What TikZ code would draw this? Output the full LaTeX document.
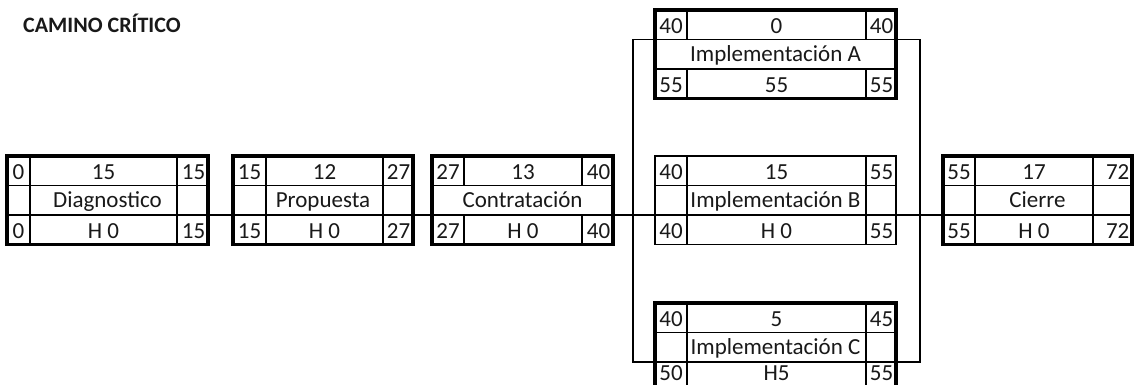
\documentclass[tikz,border=0pt]{standalone}
\usepackage{fontspec}
\setmainfont{Carlito}
\usetikzlibrary{fit}

\tikzset{
  boxframe/.style={draw=black, line width=3.2pt, inner sep=0pt, outer sep=0pt},
  lightframe/.style={draw=black, line width=1.4pt, inner sep=0pt, outer sep=0pt},
  cell/.style={draw=black, line width=1.2pt},
  txt/.style={inner sep=0pt, anchor=base, font=\fontsize{23}{24}\selectfont, text=black!90},
  link/.style={draw=black, line width=2.4pt},
  bus/.style={draw=black, line width=1.2pt},
  title/.style={inner sep=0pt, anchor=base west, font=\fontsize{22}{24}\bfseries\selectfont, text=black!90},
}

% Activity box: name, column edges x0..x3, top y, split middle row (1/0), frame style
\newcommand\actgrid[8]{%
  \pgfmathsetmacro\ya{#6+29.5}\pgfmathsetmacro\yb{#6+59}\pgfmathsetmacro\yc{#6+88.5}%
  \draw[cell] (#2,\ya) -- (#5,\ya) (#2,\yb) -- (#5,\yb)
    (#3,#6) -- (#3,\ya) (#4,#6) -- (#4,\ya)
    (#3,\yb) -- (#3,\yc) (#4,\yb) -- (#4,\yc);
  \ifnum#7=1 \draw[cell] (#3,\ya) -- (#3,\yb) (#4,\ya) -- (#4,\yb);\fi
  \coordinate (#1-nw) at (#2,#6);
  \coordinate (#1-se) at (#5,\yc);
  \node[#8, fit=(#1-nw)(#1-se)] (#1) {};
  % connection points on the row dividers
  \coordinate (#1-wu) at (#2,\ya); \coordinate (#1-eu) at (#5,\ya);
  \coordinate (#1-wl) at (#2,\yb); \coordinate (#1-el) at (#5,\yb);
  % text baselines
  \pgfmathsetmacro\xl{(#2+#3)/2}\pgfmathsetmacro\xm{(#3+#4)/2}\pgfmathsetmacro\xr{#5-2.5}%
  \pgfmathsetmacro\xc{(#2+#5)/2}%
  \pgfmathsetmacro\ta{#6+23.5}\pgfmathsetmacro\tb{\ya+22}\pgfmathsetmacro\tc{min(\yb+23.5,380)}%
  \coordinate (#1-tl) at (\xl,\ta); \coordinate (#1-tc) at (\xm,\ta); \coordinate (#1-tr) at (\xr,\ta);
  \coordinate (#1-m) at (\xc,\tb);
  \coordinate (#1-bl) at (\xl,\tc); \coordinate (#1-bc) at (\xm,\tc); \coordinate (#1-br) at (\xr,\tc);
}

% Activity labels: name, early start, duration, early finish, title, late start, slack, late finish
\newcommand\actlabels[8]{%
  \node[txt] (#1-es) at (#1-tl) {#2};
  \node[txt] (#1-du) at (#1-tc) {#3};
  \node[txt, anchor=base east] (#1-ef) at (#1-tr) {#4};
  \node[txt] (#1-nm) at (#1-m) {#5};
  \node[txt] (#1-ls) at (#1-bl) {#6};
  \node[txt] (#1-hg) at (#1-bc) {#7};
  \node[txt, anchor=base east] (#1-lf) at (#1-br) {#8};
}

\begin{document}
\begin{tikzpicture}[x=1pt, y=-1pt]
  \path[use as bounding box, clip] (0,0) rectangle (1137,385);
  \fill[white] (0,0) rectangle (1137,385);

  \node[title] (ttl) at (23,33) {CAMINO CRÍTICO};

  % bus lines around the parallel implementations
  \coordinate (busL) at (633,200);
  \coordinate (busR) at (920,200);

  \actgrid{diag}{7}{30}{177}{208}{156}{1}{boxframe}
  \actlabels{diag}{0}{15}{15}{Diagnostico}{0}{H 0}{15}

  \actgrid{prop}{233}{266}{383}{413}{156}{1}{boxframe}
  \actlabels{prop}{15}{12}{27}{Propuesta}{15}{H 0}{27}

  \actgrid{contr}{432}{464}{582}{613}{156}{0}{boxframe}
  \actlabels{contr}{27}{13}{40}{Contratación}{27}{H 0}{40}

  \actgrid{implA}{655}{687}{866}{896}{10}{0}{boxframe}
  \actlabels{implA}{40}{0}{40}{Implementación A}{55}{55}{55}

  \actgrid{implB}{655}{687}{866}{896}{156}{1}{lightframe}
  \actlabels{implB}{40}{15}{55}{Implementación B}{40}{H 0}{55}

  \actgrid{implC}{655}{687}{866}{896}{303}{1}{boxframe}
  \actlabels{implC}{40}{5}{45}{Implementación C}{50}{H5}{55}

  \actgrid{cierre}{943}{975}{1093}{1132}{156}{1}{boxframe}
  \actlabels{cierre}{55}{17}{72}{Cierre}{55}{H 0}{72}

  \draw[bus] (implA-wu) -| (busL) |- (implC-wl);
  \draw[bus] (implA-eu) -| (busR) |- (implC-el);

  % critical path links
  \draw[link] (diag-el) -- (prop-wl);
  \draw[link] (prop-el) -- (contr-wl);
  \draw[link] (contr-el) -- (implB-wl);
  \draw[link] (implB-el) -- (cierre-wl);
\end{tikzpicture}
\end{document}
